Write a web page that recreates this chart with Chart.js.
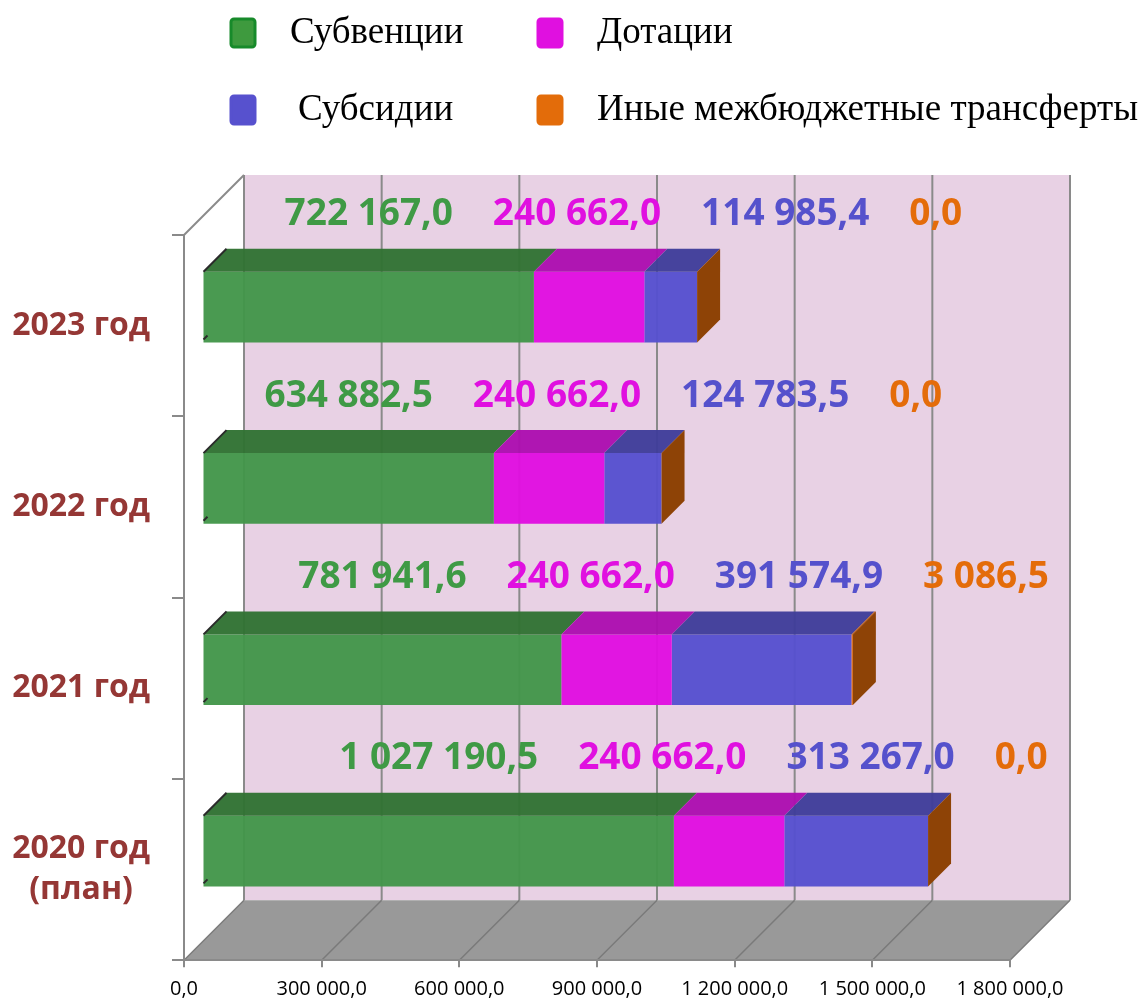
<!DOCTYPE html>
<html><head><meta charset="utf-8">
<script src="https://cdn.jsdelivr.net/npm/chart.js@4/dist/chart.umd.min.js"></script>
<style>html,body{margin:0;padding:0;background:#fff;}#wrap{position:relative;width:1148px;height:1003px;}</style>
</head><body><div id="wrap"><canvas id="c" width="1148" height="1003"></canvas></div>
<script>
// ---- data ----
const categories = ['2023 год', '2022 год', '2021 год', ['2020 год', '(план)']];
const subventions = [722167.0, 634882.5, 781941.6, 1027190.5];
const dotations = [240662.0, 240662.0, 240662.0, 240662.0];
const subsidies = [114985.4, 124783.5, 391574.9, 313267.0];
const otherTransfers = [0.0, 0.0, 3086.5, 0.0];
const seriesNames = ['Субвенции', 'Дотации', 'Субсидии', 'Иные межбюджетные трансферты'];
const xTicks = [0, 300000, 600000, 900000, 1200000, 1500000, 1800000];

// ---- styles ----
const frontColors = ['rgba(67,150,74,0.96)', 'rgba(224,15,224,0.97)', 'rgba(87,81,206,0.97)', 'rgba(228,108,10,1)'];
const topColors = ['rgba(50,115,52,0.97)', 'rgba(172,16,175,0.97)', 'rgba(64,62,154,0.97)', 'rgba(180,84,10,1)'];
const sideColors = ['#2E6A32', '#9A0C9A', '#383590', '#8E4306'];
const labelColors = ['#3F9A45', '#E010E0', '#5551CC', '#E46C0A'];
const legendFill = ['#3E9A3E', '#E010E0', '#5751CE', '#E36C0A'];
const legendStroke = ['#178A2A', '#E010E0', '#5751CE', '#E36C0A'];

function fmt(v) {
  const parts = Number(v).toFixed(1).split('.');
  return parts[0].replace(/\B(?=(\d{3})+(?!\d))/g, ' ') + ',' + parts[1];
}

const WALL = 60;      // depth of back wall
const OFF = 18.5;     // depth of bar front face
const BD = 23;        // bar depth

function poly(ctx, pts, fill) {
  ctx.beginPath();
  ctx.moveTo(pts[0][0], pts[0][1]);
  for (let i = 1; i < pts.length; i++) ctx.lineTo(pts[i][0], pts[i][1]);
  ctx.closePath();
  ctx.fillStyle = fill;
  ctx.fill();
}
function line(ctx, x1, y1, x2, y2, color, w) {
  ctx.beginPath();
  ctx.moveTo(x1, y1); ctx.lineTo(x2, y2);
  ctx.strokeStyle = color; ctx.lineWidth = w; ctx.stroke();
}

const threeD = {
  id: 'threeD',
  beforeDraw(chart) {
    const ctx = chart.ctx, a = chart.chartArea, xs = chart.scales.x;
    ctx.save();
    // back wall
    ctx.fillStyle = '#E8D1E4';
    ctx.fillRect(a.left + WALL, a.top - WALL, a.right - a.left, a.bottom - a.top);
    // floor
    poly(ctx, [[a.left, a.bottom], [a.right, a.bottom], [a.right + WALL, a.bottom - WALL], [a.left + WALL, a.bottom - WALL]], '#999999');
    // grid lines on wall and floor
    xTicks.forEach(v => {
      const x = xs.getPixelForValue(v);
      line(ctx, x + WALL, a.top - WALL, x + WALL, a.bottom - WALL, '#8A8A8A', 2);
      line(ctx, x, a.bottom, x + WALL, a.bottom - WALL, '#7A7A7A', 1.5);
    });
    // left wall top edge
    line(ctx, a.left, a.top, a.left + WALL, a.top - WALL, '#8A8A8A', 2);
    // legend
    const cols = [231, 538], rows = [33, 110], textX = [290, 597];
    ctx.font = '37px "Liberation Serif", "Times New Roman", serif';
    ctx.textBaseline = 'middle';
    ctx.textAlign = 'left';
    seriesNames.forEach((name, i) => {
      const c = i % 2, r = Math.floor(i / 2);
      const bx = cols[c], by = rows[r] - 14;
      ctx.beginPath();
      if (ctx.roundRect) ctx.roundRect(bx, by, 24, 28, 3); else ctx.rect(bx, by, 24, 28);
      ctx.fillStyle = legendFill[i]; ctx.fill();
      ctx.strokeStyle = legendStroke[i]; ctx.lineWidth = 3; ctx.stroke();
      ctx.fillStyle = '#000';
      ctx.fillText(name, textX[c] + (i === 2 ? 8 : 0), rows[r]);
    });
    ctx.restore();
  },
  beforeDatasetsDraw(chart) {
    chart.ctx.save();
    chart.ctx.translate(OFF, -OFF);
  },
  afterDatasetsDraw(chart) {
    const ctx = chart.ctx;
    const n = chart.data.labels.length;
    const nd = chart.data.datasets.length;
    const barTops = [];
    const segs = [];
    for (let i = 0; i < n; i++) {
      let end = 0, top = 0, bot = 0, left = 0;
      const row = [];
      for (let d = 0; d < nd; d++) {
        const el = chart.getDatasetMeta(d).data[i];
        const x0 = Math.min(el.base, el.x), x1 = Math.max(el.base, el.x);
        top = el.y - el.height / 2; bot = el.y + el.height / 2;
        if (d === 0) left = x0;
        if (x1 - x0 > 0.01) {
          poly(ctx, [[x0, top], [x1, top], [x1 + BD, top - BD], [x0 + BD, top - BD]], topColors[d]);
        }
        end = x1;
        row.push([x0 + OFF, x1 + OFF]);
      }
      poly(ctx, [[end, top], [end + BD, top - BD], [end + BD, bot - BD], [end, bot]], sideColors[nd - 1]);
      // left edge seen edge-on
      line(ctx, left, top, left + BD, top - BD, '#2a2a2a', 2);
      line(ctx, left, bot - 3, left + 4, bot - 7, '#2a2a2a', 2);
      barTops.push(top - OFF);
      segs.push(row);
    }
    ctx.restore();
    // value labels above bars
    ctx.save();
    ctx.font = 'bold 37px "Open Sans", "Liberation Sans", sans-serif';
    ctx.textBaseline = 'middle';
    ctx.textAlign = 'center';
    const GAP = 40;
    for (let i = 0; i < n; i++) {
      const y = barTops[i] - 57;
      let prevRight = null;
      for (let d = 0; d < nd; d++) {
        const txt = fmt(chart.data.datasets[d].data[i]);
        const w = ctx.measureText(txt).width;
        let cx;
        if (d === 0) cx = (segs[i][0][0] + segs[i][0][1]) / 2;
        else cx = prevRight + GAP + w / 2;
        ctx.fillStyle = labelColors[d];
        ctx.fillText(txt, cx, y);
        prevRight = cx + w / 2;
      }
    }
    ctx.restore();
  }
};

const datasets = [subventions, dotations, subsidies, otherTransfers].map((arr, d) => ({
  label: seriesNames[d],
  data: arr,
  backgroundColor: frontColors[d],
  borderWidth: 0,
  categoryPercentage: 1,
  barPercentage: 0.39
}));

new Chart(document.getElementById('c').getContext('2d'), {
  type: 'bar',
  data: { labels: categories, datasets },
  options: {
    indexAxis: 'y',
    responsive: false,
    animation: false,
    devicePixelRatio: 1,
    layout: { padding: { top: 235, right: 138, left: 0, bottom: 0 } },
    plugins: { legend: { display: false }, tooltip: { enabled: false } },
    scales: {
      x: {
        stacked: true, min: 0, max: 1800000,
        afterBuildTicks: s => { s.ticks = xTicks.map(v => ({ value: v })); },
        afterFit: s => { s.height = 41; },
        grid: { drawOnChartArea: false, drawTicks: true, tickLength: 7, color: '#8A8A8A', lineWidth: 2 },
        border: { display: true, color: '#8A8A8A', width: 2 },
        ticks: {
          autoSkip: false, maxRotation: 0, padding: 10, color: '#000',
          font: { family: '"Open Sans", "Liberation Sans", sans-serif', size: 20 },
          callback: v => fmt(v)
        }
      },
      y: {
        stacked: true,
        afterFit: s => { s.width = 184; },
        grid: { drawOnChartArea: false, drawTicks: true, tickLength: 12, color: '#8A8A8A', lineWidth: 2, offset: true },
        border: { display: true, color: '#8A8A8A', width: 2 },
        ticks: {
          crossAlign: 'center', padding: 22, color: '#953735',
          font: { family: '"Open Sans", "Liberation Sans", sans-serif', size: 32, weight: 'bold', lineHeight: 1.3 }
        }
      }
    }
  },
  plugins: [threeD]
});
</script></body></html>
